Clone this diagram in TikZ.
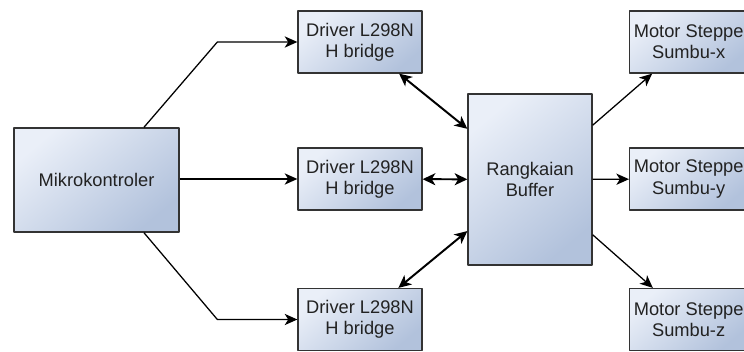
\documentclass[tikz,border=0pt]{standalone}
\usepackage{fontspec}
\setmainfont{Liberation Sans}
\usepackage{tikz}
\usetikzlibrary{arrows.meta,positioning,shapes,calc}
\definecolor{boxlight}{HTML}{EAEFF8}
\definecolor{boxdark}{HTML}{B2C2DC}
\definecolor{textgray}{HTML}{222222}

\begin{document}
\begin{tikzpicture}[x=0.025cm, y=-0.025cm, line join=round,
  block node/.style={rectangle,draw=black!80,line width=0.9pt,top color=boxlight,bottom color=boxdark,shading angle=40,align=center,text=textgray,font=\fontsize{13}{15}\selectfont,inner sep=0pt},
  driver node/.style={block node,minimum width=3.1cm,minimum height=1.55cm},
  motor node/.style={block node,minimum width=2.95cm,minimum height=1.55cm,anchor=west},
  one way/.style={line width=0.9pt,-{Stealth[length=9pt,width=8pt,inset=2.5pt]}},
  two way/.style={line width=1.4pt,{Stealth[length=9pt,width=8.5pt,inset=2.5pt]}-{Stealth[length=9pt,width=8.5pt,inset=2.5pt]}}]
\useasboundingbox (0,0) rectangle (744,352);
\begin{scope}
\node[block node,minimum width=4.125cm,minimum height=2.6cm] (mcu) at (96.5,180) {Mikrokontroler};
\node[driver node] (drv1) at (360,42) {Driver L298N\\H bridge};
\node[driver node] (drv2) at (360,179) {Driver L298N\\H bridge};
\node[driver node] (drv3) at (360,319.5) {Driver L298N\\H bridge};
\node[block node,minimum width=3.1cm,minimum height=4.275cm] (buf) at (530,179.5) {Rangkaian\\Buffer};
\node[motor node] (motx) at (629,42) {Motor Steppe\\Sumbu-x};
\node[motor node] (moty) at (629,179) {Motor Steppe\\Sumbu-y};
\node[motor node] (motz) at (629,319.5) {Motor Steppe\\Sumbu-z};
\end{scope}
\begin{scope}
\draw[one way] (mcu.48) -- ($(drv1.west)+(-80,0)$) -- (drv1.west);
\draw[one way] (mcu.east |- drv2.west) -- (drv2.west);
\draw[one way] (mcu.-48) -- ($(drv3.west)+(-80,0)$) -- (drv3.west);
\draw[two way] (drv1) -- (buf);
\draw[two way] (drv2) -- (buf);
\draw[two way] (drv3) -- (buf);
\draw[one way] (buf) -- (motx);
\draw[one way] (buf) -- (moty);
\draw[one way] (buf) -- (motz);
\end{scope}
\end{tikzpicture}
\end{document}
